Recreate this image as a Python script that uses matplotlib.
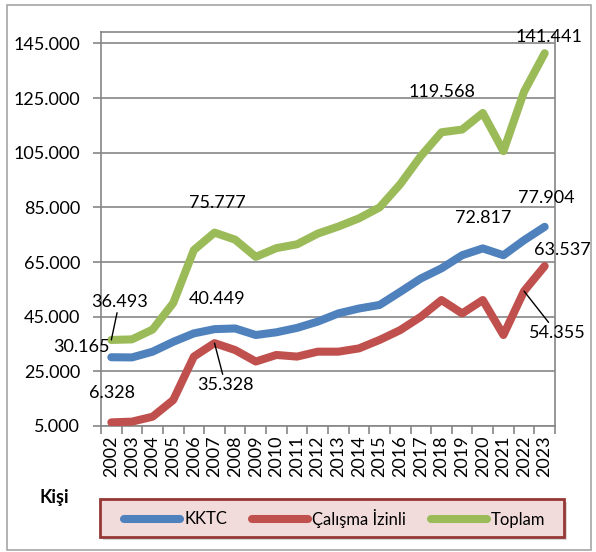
import numpy as np
import matplotlib
matplotlib.use("Agg")
import matplotlib.pyplot as plt
from matplotlib.patches import Rectangle
from matplotlib.ticker import FuncFormatter, FixedLocator

plt.rcParams['font.family'] = ['Lato', 'DejaVu Sans']

years = [str(y) for y in range(2002, 2024)]

kktc = [30165, 30100, 32200, 35800, 38900, 40449, 40700, 38300, 39300, 40900, 43200,
        46200, 48000, 49300, 54100, 59000, 62700, 67500, 70000, 67500, 73000, 77904]
calisma = [6328, 6600, 8400, 14500, 30400, 35328, 32800, 28600, 31000, 30400, 32200,
           32200, 33400, 36500, 40100, 45000, 51100, 46200, 51100, 38300, 54355, 63537]
toplam = [36493, 36700, 40300, 50000, 69400, 75777, 73200, 66900, 70100, 71500, 75400,
          78000, 81000, 85000, 93500, 103800, 112500, 113500, 119568, 105600, 127355, 141441]

series = [("KKTC", kktc, "#4F81BD"),
          ("Çalışma İzinli", calisma, "#C0504D"),
          ("Toplam", toplam, "#9BBB59")]

# data labels: (series values, index, text, offset px, leader line)
labels = [
    (toplam, 0, "36.493", (8, 38), True),
    (kktc, 0, "30.165", (-30, 10), False),
    (calisma, 0, "6.328", (1, 29), False),
    (toplam, 5, "75.777", (3, 30), False),
    (kktc, 5, "40.449", (3, 30), False),
    (calisma, 5, "35.328", (11, -42), True),
    (toplam, 18, "119.568", (-41, 21), False),
    (kktc, 18, "72.817", (0, 30), False),
    (toplam, 21, "141.441", (4, 16), False),
    (kktc, 21, "77.904", (2, 29), False),
    (calisma, 21, "63.537", (18, 16), False),
    (calisma, 20, "54.355", (33, -42), True),
]

W, H = 596, 552
fig = plt.figure(figsize=(W / 100, H / 100), dpi=100)
ax = fig.add_axes([101 / W, 126 / H, 454 / W, 394 / H])

x = np.arange(len(years))
for name, vals, col in series:
    ax.plot(x, vals, color=col, lw=5.8, label=name,
            solid_capstyle='round', solid_joinstyle='round', zorder=3)

grey = "#868686"
ax.set_xlim(-0.5, len(years) - 0.5)
ax.set_ylim(5000, 149200)
ax.set_yticks(np.arange(5000, 145001, 20000))
ax.yaxis.set_major_formatter(FuncFormatter(lambda v, p: f"{int(v):,}".replace(",", ".")))
ax.grid(axis='y', color=grey, lw=1.2)
ax.set_axisbelow(True)
for s in ax.spines.values():
    s.set_color(grey)
    s.set_linewidth(1.2)

ax.set_xticks(x)
ax.set_xticklabels(years, rotation=90)
ax.xaxis.set_minor_locator(FixedLocator(np.arange(-0.5, len(years), 1)))
ax.tick_params(axis='x', which='major', length=0, pad=7, labelsize=13)
ax.tick_params(axis='x', which='minor', length=6, color=grey, width=1.2)
ax.tick_params(axis='y', length=6, color=grey, width=1.2, pad=9, labelsize=13)

for vals, i, txt, off, lead in labels:
    kw = {}
    if lead:
        kw['arrowprops'] = dict(arrowstyle='-', color='black', lw=1, shrinkA=0, shrinkB=0)
    ax.annotate(txt, xy=(i, vals[i]), xytext=off, textcoords='offset pixels',
                ha='center', va='center', fontsize=13, zorder=5, **kw)

fig.text(54 / W, 1 - 498 / H, "Kişi", fontsize=13, fontweight='bold',
         ha='center', va='center')

# legend box (Excel style, with a soft shadow)
fig.patches.append(Rectangle((103 / W, 1 - 540 / H), 464 / W, 38 / H,
                             transform=fig.transFigure, facecolor="#BFBFBF",
                             edgecolor="none", alpha=0.6, zorder=1))
fig.patches.append(Rectangle((100 / W, 1 - 537 / H), 464 / W, 38 / H,
                             transform=fig.transFigure, facecolor="#F2DCDB",
                             edgecolor="#953735", lw=2, zorder=2))
leg = fig.legend(loc='center', bbox_to_anchor=(335 / W, 1 - 518 / H), ncol=3,
                 fontsize=12, handlelength=3.35, handletextpad=0.25, columnspacing=1.5,
                 frameon=False, borderaxespad=0)
leg.set_zorder(3)

fig.patches.append(Rectangle((7 / W, 2 / H), 584 / W, 545 / H, transform=fig.transFigure,
                             fill=False, edgecolor="#A6A6A6", lw=1.2))

fig.savefig("out.png", dpi=100)
